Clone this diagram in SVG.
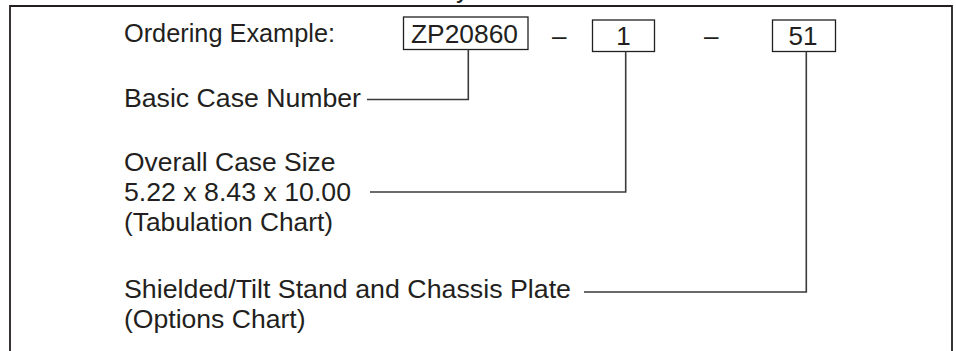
<svg xmlns="http://www.w3.org/2000/svg" width="956" height="351" viewBox="0 0 956 351">
<style>
text{font-family:"Liberation Sans",Arial,Helvetica,sans-serif;font-size:26px;fill:#231f20}
.box{fill:none;stroke:#231f20;stroke-width:1.3}
.ln{fill:none;stroke:#3a3a3a;stroke-width:1.6}
.frame{fill:none;stroke:#231f20;stroke-width:1.8}
</style>
<rect fill="#fff" width="956" height="351"/>
<text x="456" y="-2">y</text>
<path class="frame" d="M10,360 V6 H952 V360"/>
<g id="title"><text x="124" y="42" textLength="211" lengthAdjust="spacingAndGlyphs">Ordering Example:</text></g>
<g id="box-zp"><rect class="box" x="403.5" y="17" width="124.5" height="32.5"/><text x="411" y="43" textLength="107" lengthAdjust="spacingAndGlyphs">ZP20860</text></g>
<g id="dash1"><text x="552" y="45">–</text></g>
<g id="box-1"><rect class="box" x="592.5" y="20" width="62" height="31.5"/><text x="623.5" y="45" text-anchor="middle">1</text></g>
<g id="dash2"><text x="704" y="45">–</text></g>
<g id="box-51"><rect class="box" x="772.5" y="20" width="63" height="31.5"/><text x="803" y="45" text-anchor="middle">51</text></g>
<g id="label-basic"><text x="124" y="107" textLength="237" lengthAdjust="spacingAndGlyphs">Basic Case Number</text></g>
<g id="label-size"><text x="124" y="171" textLength="211.5" lengthAdjust="spacingAndGlyphs">Overall Case Size</text><text x="124" y="201" textLength="227" lengthAdjust="spacingAndGlyphs">5.22 x 8.43 x 10.00</text><text x="124" y="231" textLength="209" lengthAdjust="spacingAndGlyphs">(Tabulation Chart)</text></g>
<g id="label-options"><text x="124" y="298" textLength="447" lengthAdjust="spacingAndGlyphs">Shielded/Tilt Stand and Chassis Plate</text><text x="124" y="328" textLength="181.5" lengthAdjust="spacingAndGlyphs">(Options Chart)</text></g>
<g id="connectors">
<path class="ln" d="M468.3,49.5 V99.5 H367"/>
<path class="ln" d="M625.7,51.5 V192 H370"/>
<path class="ln" d="M806.3,51.5 V292 H584"/>
</g>
</svg>
